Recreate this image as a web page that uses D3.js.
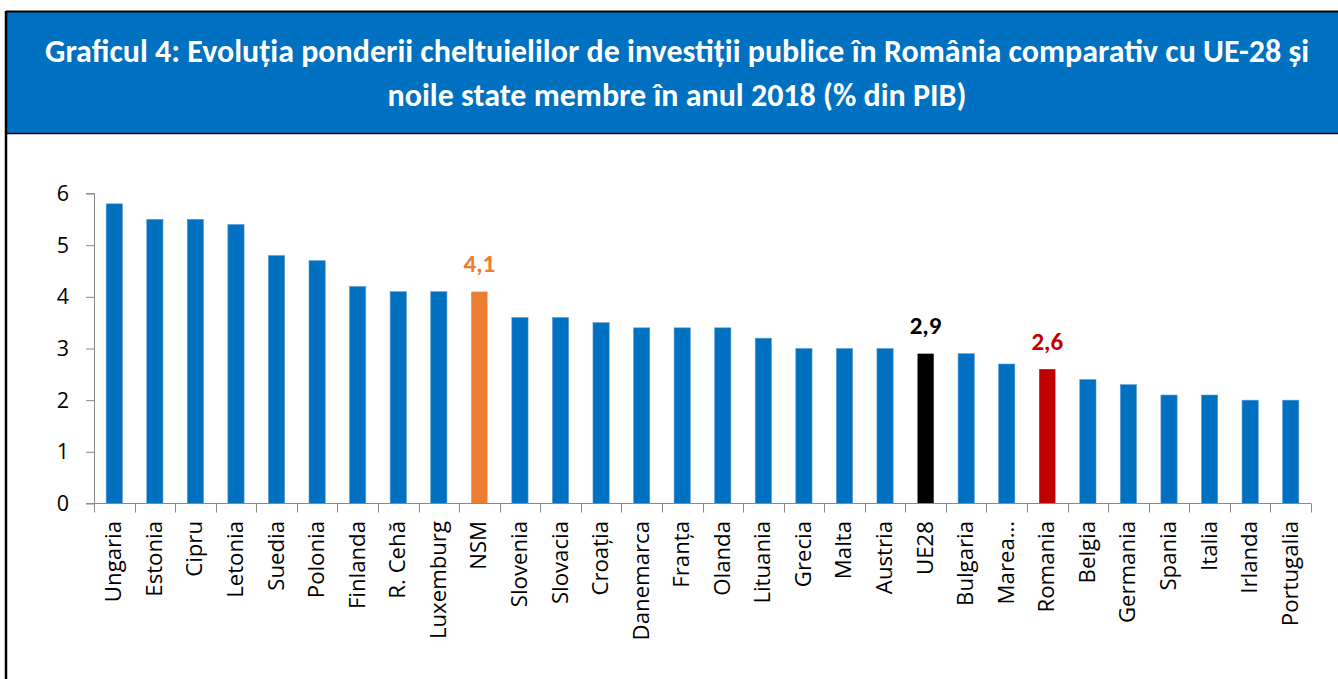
<!DOCTYPE html>
<html>
<head>
<meta charset="utf-8">
<script src="https://cdn.jsdelivr.net/npm/d3@7"></script>
<style>
  body { margin:0; background:#fff; }
  svg { display:block; }
</style>
</head>
<body>
<svg id="chart" width="1338" height="679"></svg>
<script>
const categories = ["Ungaria","Estonia","Cipru","Letonia","Suedia","Polonia","Finlanda","R. Cehă","Luxemburg","NSM",
  "Slovenia","Slovacia","Croația","Danemarca","Franța","Olanda","Lituania","Grecia","Malta","Austria",
  "UE28","Bulgaria","Marea…","Romania","Belgia","Germania","Spania","Italia","Irlanda","Portugalia"];
const values = [5.8,5.5,5.5,5.4,4.8,4.7,4.2,4.1,4.1,4.1,
  3.6,3.6,3.5,3.4,3.4,3.4,3.2,3.0,3.0,3.0,
  2.9,2.9,2.7,2.6,2.4,2.3,2.1,2.1,2.0,2.0];
const highlights = {"NSM":"#ED7D31","UE28":"#000000","Romania":"#C00000"};
const yTicks = [0,1,2,3,4,5,6];
const titleLines = ["Graficul 4: Evoluția ponderii cheltuielilor de investiții publice în România comparativ cu UE-28 și",
  "noile state membre în anul 2018 (% din PIB)"];

const svg = d3.select("#chart");
const titleFont = "Carlito, Calibri, sans-serif";
const labelFont = "'Open Sans', sans-serif";

// header band
svg.append("rect").attr("x",6).attr("y",11).attr("width",1332).attr("height",123)
  .attr("fill","#0070C0");
svg.append("line").attr("x1",6).attr("x2",1338).attr("y1",11.5).attr("y2",11.5)
  .attr("stroke","#000").attr("stroke-width",2);
svg.append("line").attr("x1",6).attr("x2",1338).attr("y1",133.5).attr("y2",133.5)
  .attr("stroke","#000").attr("stroke-width",1.5);
svg.append("line").attr("x1",6).attr("x2",6).attr("y1",11).attr("y2",679)
  .attr("stroke","#000").attr("stroke-width",2.5);

svg.selectAll(".title").data(titleLines).join("text")
  .attr("class","title")
  .attr("x",677).attr("y",(d,i)=>62+i*44)
  .attr("text-anchor","middle")
  .attr("fill","#fff").attr("font-family",titleFont)
  .attr("font-weight","bold").attr("font-size",32)
  .text(d=>d);

const x0 = 94, x1 = 1311;
const xStep = d3.scaleBand().domain(categories).range([x0,x1]);
const x = d3.scaleBand().domain(categories).range([x0,x1]).paddingInner(0.6).paddingOuter(0.3);
const y = d3.scaleLinear().domain([0,6]).range([503.5,193.5]);

// y axis
const yAxis = svg.append("g").attr("transform",`translate(${x0},0)`)
  .call(d3.axisLeft(y).tickValues(yTicks).tickSize(8).tickFormat(d3.format("d")));
yAxis.select(".domain").attr("stroke","#898989").attr("d","M-8,193.5H0.5V503.5");
yAxis.selectAll(".tick line").attr("stroke","#898989");
yAxis.selectAll(".tick text").attr("font-family",labelFont).attr("font-size",21.5)
  .attr("fill","#000").attr("x",-25);

// bars
svg.selectAll(".bar").data(categories).join("rect")
  .attr("class","bar")
  .attr("x",d=>x(d)).attr("width",x.bandwidth())
  .attr("y",(d,i)=>y(values[i])).attr("height",(d,i)=>y(0)-y(values[i]))
  .attr("fill",d=>highlights[d] || "#0070C0")
  .attr("stroke",d=>highlights[d] ? "none" : "#5B9BD5").attr("stroke-width",0.6);

// x axis
const xg = svg.append("g");
xg.append("line").attr("x1",x0-8).attr("x2",x1).attr("y1",503.5).attr("y2",503.5)
  .attr("stroke","#898989");
xg.selectAll(".xt").data(d3.range(categories.length+1)).join("line")
  .attr("class","xt")
  .attr("x1",i=>Math.round(x0+i*xStep.step())+0.5).attr("x2",i=>Math.round(x0+i*xStep.step())+0.5)
  .attr("y1",503.5).attr("y2",512.5).attr("stroke","#898989");
xg.selectAll(".xl").data(categories).join("text")
  .attr("class","xl")
  .attr("transform",d=>`translate(${xStep(d)+xStep.bandwidth()/2+7},521) rotate(-90)`)
  .attr("text-anchor","end")
  .attr("font-family",labelFont).attr("font-size",22.2).attr("fill","#000")
  .text(d=>d);

// value labels on highlighted bars
svg.selectAll(".vl").data(categories.filter(d=>highlights[d])).join("text")
  .attr("class","vl")
  .attr("x",d=>x(d)+x.bandwidth()/2)
  .attr("y",d=>y(values[categories.indexOf(d)])-19.5)
  .attr("text-anchor","middle")
  .attr("font-family",titleFont).attr("font-weight","bold").attr("font-size",25)
  .attr("fill",d=>highlights[d])
  .text(d=>values[categories.indexOf(d)].toFixed(1).replace(".",","));
</script>
</body>
</html>
